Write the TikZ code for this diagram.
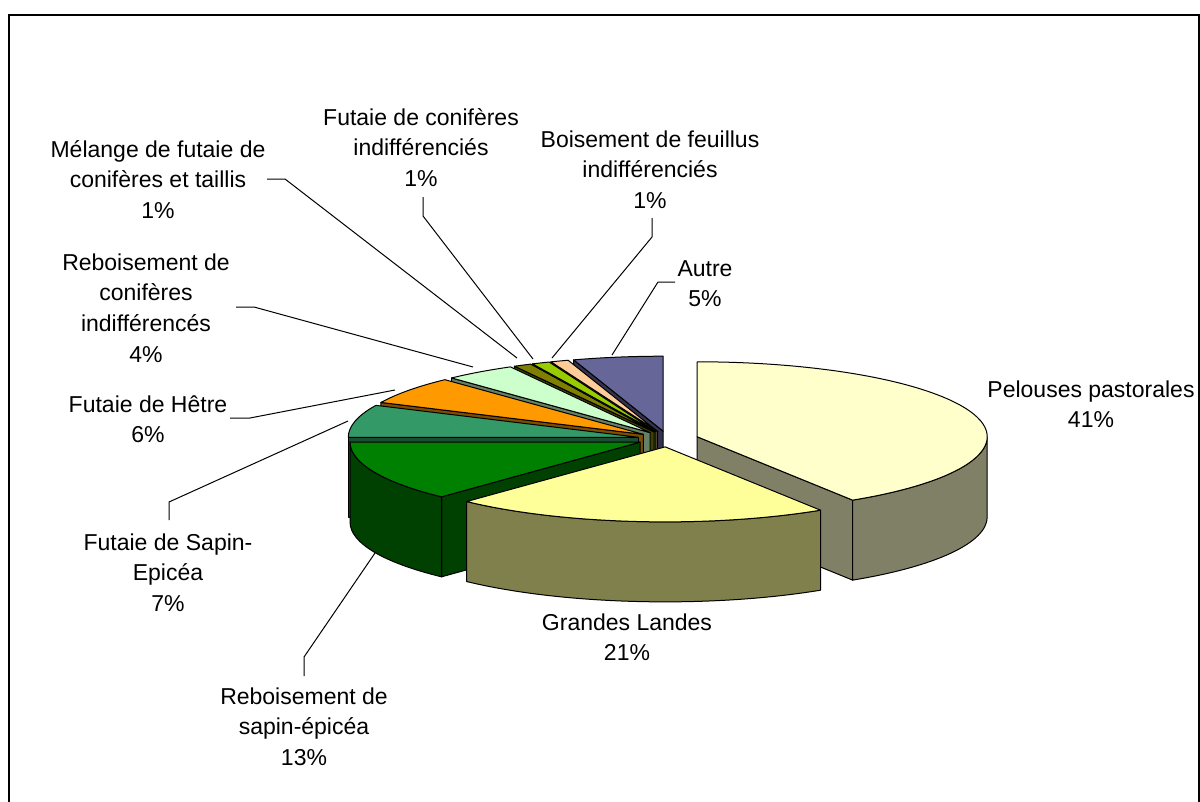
\documentclass[tikz,border=0pt]{standalone}
\usepackage{fontspec}
\setmainfont{Liberation Sans}
\definecolor{pelT}{HTML}{FFFFCC}\definecolor{pelS}{HTML}{808066}
\definecolor{glT}{HTML}{FFFF99}\definecolor{glS}{HTML}{80804D}
\definecolor{rsT}{HTML}{008000}\definecolor{rsS}{HTML}{004000}
\definecolor{fsT}{HTML}{339966}\definecolor{fsS}{HTML}{1A4D33}
\definecolor{heT}{HTML}{FF9900}\definecolor{heS}{HTML}{804D00}
\definecolor{rcT}{HTML}{CCFFCC}\definecolor{rcS}{HTML}{668066}
\definecolor{meT}{HTML}{808000}\definecolor{meS}{HTML}{404000}
\definecolor{fcT}{HTML}{99CC00}\definecolor{fcS}{HTML}{4D6600}
\definecolor{boT}{HTML}{FFCC99}\definecolor{boS}{HTML}{80664D}
\definecolor{auT}{HTML}{666699}\definecolor{auS}{HTML}{33334D}
\tikzset{
  pieface/.style={draw=black, line width=1pt, line join=round},
  leader/.style={draw=black, line width=1pt},
  lbl/.style={align=center, font=\fontsize{23}{30.7}\selectfont, inner sep=0pt, anchor=north},
}
\newcommand\slicetop[4]{\filldraw[pieface, fill=#4] (#1) -- ++(#2:290pt and 75pt) arc[start angle=#2, end angle=#3, x radius=290pt, y radius=75pt] -- cycle;}
\newcommand\slicewall[3]{\filldraw[pieface, fill=#3] (#1) -- ++(#2:290pt and 75pt) -- ++(0pt,-80pt) -- ++({#2+180}:290pt and 75pt) -- cycle;}
\newcommand\sliceside[4]{\path (#1) ++(#2:290pt and 75pt) coordinate (sidestart);
  \filldraw[pieface, fill=#4] (sidestart) arc[start angle=#2, end angle=#3, x radius=290pt, y radius=75pt] -- ++(0pt,-80pt) arc[start angle=#3, end angle=#2, x radius=290pt, y radius=75pt] -- cycle;}
\begin{document}
\begin{tikzpicture}[x=1pt, y=-1pt]
\useasboundingbox (0,0) rectangle (1200,801);
\fill[white] (0,0) rectangle (1200,801);
\begin{scope}
\clip (10,16) rectangle (1198,801);
\coordinate (c0) at (668,439);
\path (c0) ++(99:30.45pt and 7.9pt) coordinate (cAu);
\path (c0) ++(109.8:30.45pt and 7.9pt) coordinate (cBo);
\path (c0) ++(113.4:30.45pt and 7.9pt) coordinate (cFC);
\path (c0) ++(117:30.45pt and 7.9pt) coordinate (cMe);
\path (c0) ++(126:30.45pt and 7.9pt) coordinate (cRC);
\path (c0) ++(144:30.45pt and 7.9pt) coordinate (cHe);
\path (c0) ++(167.4:30.45pt and 7.9pt) coordinate (cFS);
\path (c0) ++(16.2:30.45pt and 7.9pt) coordinate (cPe);
\path (c0) ++(-156.6:30.45pt and 7.9pt) coordinate (cRS);
\path (c0) ++(-95.4:30.45pt and 7.9pt) coordinate (cGL);
% Autre
\slicewall{cAu}{108}{auS}
\slicetop{cAu}{90}{108}{auT}
% Boisement
\slicewall{cBo}{111.6}{boS}
\slicetop{cBo}{108}{111.6}{boT}
% Futaie coniferes
\slicewall{cFC}{115.2}{fcS}
\slicetop{cFC}{111.6}{115.2}{fcT}
% Melange
\slicewall{cMe}{118.8}{meS}
\slicetop{cMe}{115.2}{118.8}{meT}
% Reboisement coniferes
\slicewall{cRC}{133.2}{rcS}
\slicetop{cRC}{118.8}{133.2}{rcT}
% Hetre
\slicewall{cHe}{154.8}{heS}
\slicetop{cHe}{133.2}{154.8}{heT}
% Futaie Sapin
\slicewall{cFS}{180}{fsS}
\slicetop{cFS}{154.8}{180}{fsT}
% Pelouses
\slicewall{cPe}{-57.6}{pelS}
\sliceside{cPe}{-57.6}{0}{pelS}
\slicetop{cPe}{-57.6}{90}{pelT}
% Reboisement sapin
\slicewall{cRS}{-133.2}{rsS}
\sliceside{cRS}{-180}{-133.2}{rsS}
\slicetop{cRS}{-180}{-133.2}{rsT}
% Grandes Landes
\sliceside{cGL}{-133.2}{-57.6}{glS}
\slicetop{cGL}{-133.2}{-57.6}{glT}

% labels
\node[lbl] (lPe) at (1091,379) {\rule{0pt}{18pt}Pelouses pastorales\\41\%};
\node[lbl] (lGL) at (627,612) {\rule{0pt}{18pt}Grandes Landes\\21\%};
\node[lbl] (lRS) at (304,686) {\rule{0pt}{18pt}Reboisement de\\sapin-épicéa\\13\%};
\node[lbl] (lFS) at (168,532) {\rule{0pt}{18pt}Futaie de Sapin-\\Epicéa\\7\%};
\node[lbl] (lHe) at (148,394) {\rule{0pt}{18pt}Futaie de Hêtre\\6\%};
\node[lbl] (lRC) at (146,252) {\rule{0pt}{18pt}Reboisement de\\conifères\\indifférencés\\4\%};
\node[lbl] (lMe) at (158,139) {\rule{0pt}{18pt}Mélange de futaie de\\conifères et taillis\\1\%};
\node[lbl] (lFC) at (421,107) {\rule{0pt}{18pt}Futaie de conifères\\indifférenciés\\1\%};
\node[lbl] (lBo) at (650,129) {\rule{0pt}{18pt}Boisement de feuillus\\indifférenciés\\1\%};
\node[lbl] (lAu) at (705,258) {\rule{0pt}{18pt}Autre\\5\%};

% leader lines
\coordinate (meA) at (267,179); \coordinate (meB) at (285,179); \coordinate (meC) at (517,358);
\coordinate (rcA) at (236,307); \coordinate (rcB) at (254,307); \coordinate (rcC) at (473,367);
\coordinate (heA) at (230,418); \coordinate (heB) at (250,418); \coordinate (heC) at (395,390);
\coordinate (fsA) at (169,520); \coordinate (fsB) at (169,502); \coordinate (fsC) at (348,421);
\coordinate (rsA) at (304,676); \coordinate (rsB) at (304,657); \coordinate (rsC) at (375,553);
\coordinate (fcA) at (423,197); \coordinate (fcB) at (423,216); \coordinate (fcC) at (533,359);
\coordinate (boA) at (652,218); \coordinate (boB) at (652,237); \coordinate (boC) at (552,358);
\coordinate (auA) at (675,282); \coordinate (auB) at (658,282); \coordinate (auC) at (612,355);
\draw[leader] (meA) -- (meB) -- (meC);
\draw[leader] (rcA) -- (rcB) -- (rcC);
\draw[leader] (heA) -- (heB) -- (heC);
\draw[leader] (fsA) -- (fsB) -- (fsC);
\draw[leader] (rsA) -- (rsB) -- (rsC);
\draw[leader] (fcA) -- (fcB) -- (fcC);
\draw[leader] (boA) -- (boB) -- (boC);
\draw[leader] (auA) -- (auB) -- (auC);
\end{scope}
\draw[line width=2pt] (9,15) rectangle (1199,830);
\end{tikzpicture}
\end{document}
